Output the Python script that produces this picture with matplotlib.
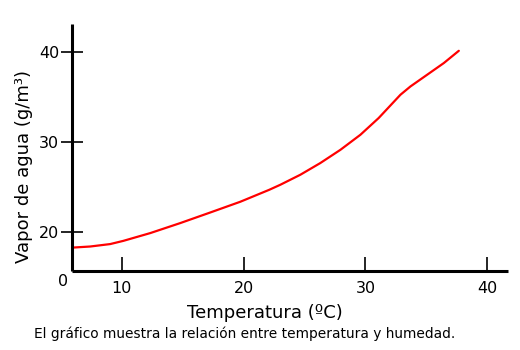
# Vapor de agua vs temperatura

import numpy as np
import matplotlib
matplotlib.use("Agg")
import matplotlib.pyplot as plt

# Data
temperatura = [5.89, 6.08, 7.40, 9.04, 10.13, 12.33, 14.79, 17.26, 19.72, 22.10, 23.01,
               24.65, 26.29, 27.94, 29.58, 31.08, 32.87, 33.69, 35.06, 36.43, 37.66]
vapor = [18.30, 18.29, 18.40, 18.67, 19.03, 19.89, 21.0, 22.18, 23.37, 24.70, 25.26,
         26.37, 27.67, 29.14, 30.81, 32.67, 35.26, 36.18, 37.48, 38.78, 40.14]
x_ticks = [10, 20, 30, 40]
y_ticks = [20, 30, 40]

plt.rcParams['font.family'] = ['DejaVu Sans']

fig = plt.figure(figsize=(5.2, 3.5), dpi=100)
ax = fig.add_axes([0.138, 0.227, 0.839, 0.704])

ax.plot(temperatura, vapor, color="#ff0000", linewidth=1.6,
        solid_capstyle="round", solid_joinstyle="round")

ax.set_xlim(5.89, 41.7)
ax.set_ylim(15.73, 43.1)
ax.set_xticks(x_ticks)
ax.set_yticks(y_ticks)

for side in ["top", "right"]:
    ax.spines[side].set_visible(False)
for side in ["left", "bottom"]:
    ax.spines[side].set_linewidth(2.2)
    ax.spines[side].set_capstyle("butt")

ax.tick_params(axis="x", direction="in", length=10, width=1.2, labelsize=11.5, pad=7.5)
ax.tick_params(axis="y", direction="inout", length=16, width=1.2, labelsize=11.5, pad=1)

ax.set_xlabel("Temperatura (ºC)", fontsize=13)
ax.set_ylabel("Vapor de agua (g/m³)", fontsize=13)
ax.xaxis.set_label_coords(0.443, -0.135)
ax.yaxis.set_label_coords(-0.089, 0.422)

fig.text(63 / 520, 1 - 281 / 350, "0", fontsize=11.5, ha="center", va="center")
fig.text(245 / 520, 1 - 334 / 350, "El gráfico muestra la relación entre temperatura y humedad.",
         fontsize=9.9, ha="center", va="center")

plt.savefig("out.png", dpi=100)
